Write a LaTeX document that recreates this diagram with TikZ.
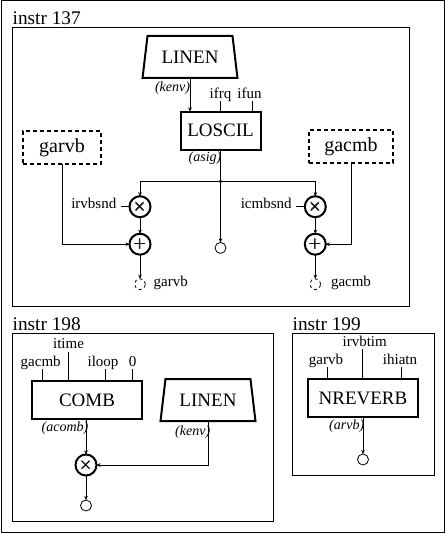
\documentclass[tikz,border=0pt]{standalone}
\usepackage{amsmath}
\usepackage{fontspec}
\setmainfont{Liberation Serif}
\usetikzlibrary{arrows.meta,positioning,shapes.geometric}

\begin{document}
\begin{tikzpicture}[x=1pt,y=-1pt,>={Stealth[length=4pt,width=3.5pt]},
  frame/.style={draw,line width=1pt,anchor=north west,inner sep=0,outer sep=0},
  title/.style={inner sep=0,font=\fontsize{19.3}{20}\selectfont},
  ug/.style={draw,line width=2pt,inner sep=0,outer sep=0,minimum height=38pt,font=\fontsize{19}{20}\selectfont},
  env/.style={draw,line width=2pt,inner sep=0,outer sep=0,trapezium,trapezium stretches=true,trapezium left angle=75,trapezium right angle=75,minimum width=95pt,minimum height=42pt,font=\fontsize{19}{20}\selectfont},
  gbl/.style={draw,dash pattern=on 4pt off 3pt,line width=2pt,inner sep=0,outer sep=0,minimum height=33pt,font=\fontsize{20}{21}\selectfont},
  arg/.style={inner sep=0,text height=7pt,text depth=2.5pt,font=\fontsize{15}{16}\selectfont},
  sig/.style={inner sep=0,font=\fontsize{14}{15}\itshape},
  op/.style={draw,circle,line width=2pt,inner sep=0,outer sep=0,minimum size=21pt,font=\LARGE},
  sink/.style={draw,circle,line width=.8pt,inner sep=0,outer sep=0,minimum size=11pt},
  tap/.style={fill,circle,inner sep=0,minimum size=3.5pt}]
\useasboundingbox (0,0) rectangle (446,534);
\node[frame,minimum width=442.5pt,minimum height=531pt] (page) at (1.5,1) {};

% instr 137
\node[frame,minimum width=396.5pt,minimum height=278.5pt] (f137) at (12.5,27.5) {};
\node[title,above right=2.5pt and 0pt of f137.north west] (t137) {instr 137};
\node[env] (lin137) at (190,57) {LINEN};
\node[ug,minimum width=80pt,below=33.5pt of lin137,xshift=30.5pt] (los) {LOSCIL};
\node[arg] (ifrq) at (220.5,96) {ifrq};
\node[arg] (ifun) at (249.5,96) {ifun};
\node[sig] (kenv137) at (172.5,88.5) {(kenv)};
\node[sig] (asig) at (205,158) {(asig)};
\node[gbl,minimum width=78pt] (gar) at (62,147.5) {garvb};
\node[gbl,minimum width=84pt] (gac) at (351,147) {gacmb};
\node[tap,below=30pt of los] (split) {};
\node[op] (mul1) at (140,206.7) {$\pmb{\times}$};
\node[op,below=16.5pt of mul1] (add1) {$\pmb{+}$};
\node[op] (mul2) at (315.3,206.7) {$\pmb{\times}$};
\node[op,below=16.5pt of mul2] (add2) {$\pmb{+}$};
\node[sink,below=59pt of split] (o137) {};
\node[sink,dashed,below=24pt of add1] (o1) {};
\node[sink,dashed,below=24pt of add2] (o2) {};
\node[arg,right=8pt of o1] (g1) {garvb};
\node[arg,right=10pt of o2] (g2) {gacmb};
\node[arg,left=13pt of mul1] (irv) {irvbsnd};
\node[arg,left=13pt of mul2] (icm) {icmbsnd};
\draw[->] (lin137.south) -- (lin137.south |- los.north);
\draw (ifrq.south) -- (ifrq.south |- los.north);
\draw ([xshift=2.5pt]ifun.south) -- ([xshift=2.5pt]ifun.south |- los.north);
\draw (los.south) -- (split);
\draw[->] (split) -| (mul1);
\draw[->] (split) -| (mul2);
\draw[->] (split) -- (o137);
\draw ([xshift=4pt]irv.east) -- (mul1);
\draw ([xshift=4pt]icm.east) -- (mul2);
\draw[->] (mul1) -- (add1);
\draw[->] (mul2) -- (add2);
\draw[->] (gar.south) |- (add1);
\draw[->] (gac.south) |- (add2);
\draw[->] (add1) -- (o1);
\draw[->] (add2) -- (o2);

% instr 198
\node[frame,minimum width=261pt,minimum height=188pt] (f198) at (12.5,333.5) {};
\node[title,above right=2.5pt and 0pt of f198.north west] (t198) {instr 198};
\node[ug,minimum width=110pt] (comb) at (87,400) {COMB};
\node[env,right=21pt of comb] (lin198) {LINEN};
\node[arg] (a1) at (40.7,364) {gacmb};
\node[arg] (a2) at (68.5,346.7) {itime};
\node[arg] (a3) at (103,364) {iloop};
\node[arg] (a4) at (132.5,364) {0};
\node[sig] (acomb) at (65,428) {(acomb)};
\node[sig] (kenv198) at (192.7,431.7) {(kenv)};
\node[op] (mul3) at (86,465) {$\pmb{\times}$};
\node[sink,below=24.5pt of mul3] (o198) {};
\draw ([xshift=1pt]a1.south) -- ([xshift=1pt]a1.south |- comb.north);
\draw (a2.south) -- (a2.south |- comb.north);
\draw ([xshift=1.7pt]a3.south) -- ([xshift=1.7pt]a3.south |- comb.north);
\draw (a4.south) -- (a4.south |- comb.north);
\draw[->] (mul3 |- comb.south) -- (mul3);
\draw[->] (lin198.south) |- (mul3);
\draw[->] (mul3) -- (o198);

% instr 199
\node[frame,minimum width=141.5pt,minimum height=141.5pt] (f199) at (292.5,333.5) {};
\node[title,above right=2.5pt and 0pt of f199.north west] (t199) {instr 199};
\node[ug,minimum width=110.5pt] (nrev) at (363,398) {NREVERB};
\node[arg] (b1) at (326,362) {garvb};
\node[arg] (b2) at (364.7,344) {irvbtim};
\node[arg] (b3) at (400,362) {ihiatn};
\node[sig] (arvb) at (346.7,425.7) {(arvb)};
\node[sink,below=37pt of nrev] (o199) {};
\draw ([xshift=1.3pt]b1.south) -- ([xshift=1.3pt]b1.south |- nrev.north);
\draw ([xshift=-2.4pt]b2.south) -- ([xshift=-2.4pt]b2.south |- nrev.north);
\draw ([xshift=1.3pt]b3.south) -- ([xshift=1.3pt]b3.south |- nrev.north);
\draw[->] (nrev.south) -- (o199);
\end{tikzpicture}
\end{document}
